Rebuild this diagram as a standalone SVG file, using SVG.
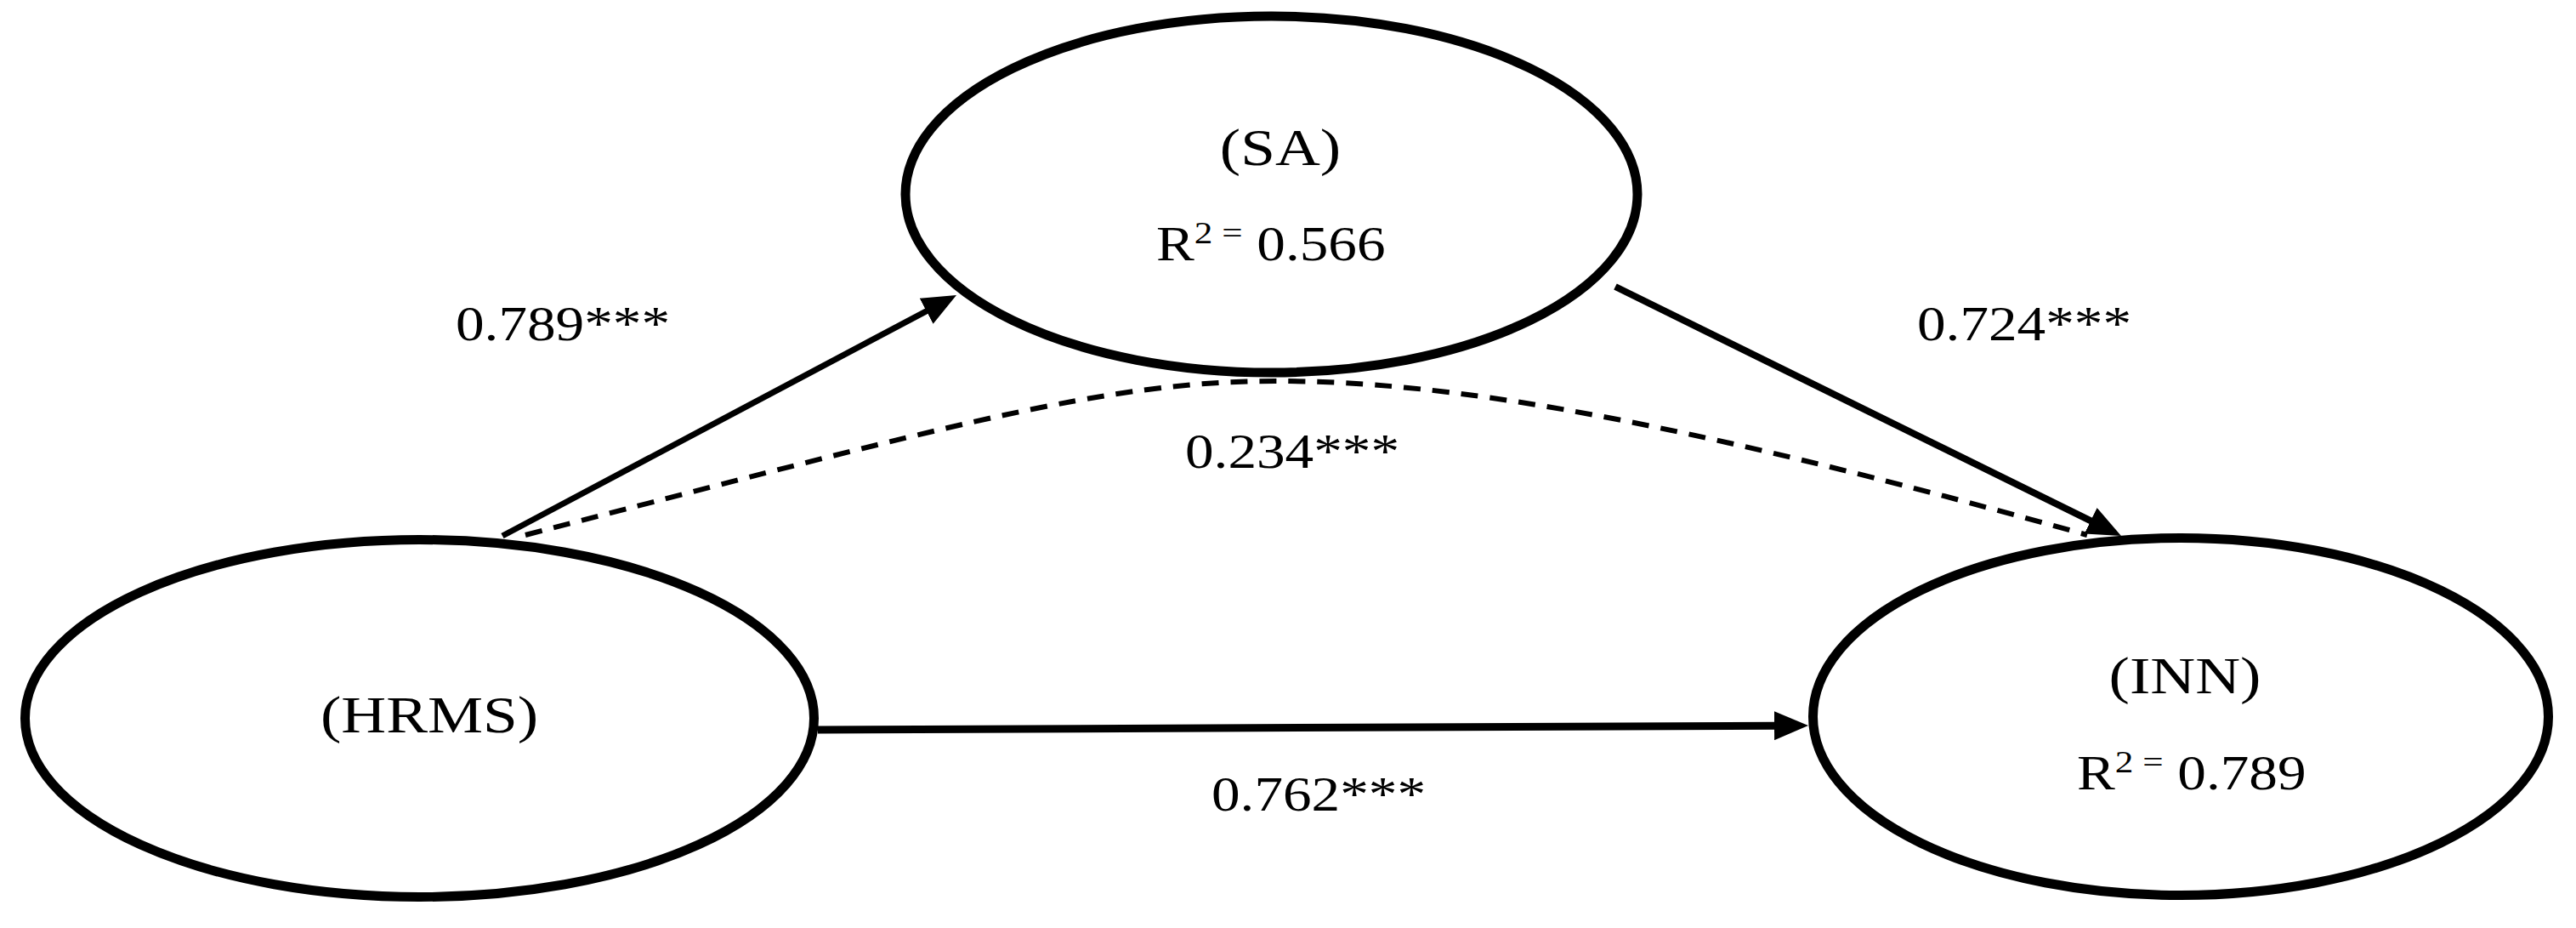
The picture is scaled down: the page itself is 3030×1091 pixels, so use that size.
<svg xmlns="http://www.w3.org/2000/svg" width="3030" height="1091" viewBox="0 0 3030 1091">
<style>
.node ellipse { fill: #fff; stroke: #000; stroke-width: 11; }
.lbl { font-family: "Liberation Serif", "Times New Roman", serif; fill: #000; }
.node-lbl { font-size: 61px; text-anchor: middle; }
.edge-lbl { font-size: 56px; text-anchor: middle; }
.r2 { font-size: 56px; }
.sup { font-size: 36px; }
.conn { fill: none; stroke: #000; }
.dashed { stroke-width: 6; stroke-dasharray: 20 14; }
</style>
<defs>
<marker id="arrow" markerUnits="userSpaceOnUse" viewBox="0 0 40 34" markerWidth="40" markerHeight="34" refX="2" refY="17" orient="auto">
<path d="M0,0 L40,17 L0,34 z" fill="#000"/>
</marker>
</defs>
<rect width="3030" height="1091" fill="#fff"/>

<g id="node-SA" class="node">
<ellipse cx="1495.5" cy="228.5" rx="430.5" ry="209.5"/>
<text class="lbl node-lbl" transform="translate(1506,194) scale(1.2,1)">(SA)</text>
<text class="lbl r2" transform="translate(1360,306) scale(1.2,1)">R<tspan class="sup" dy="-20">2 =</tspan><tspan dy="20"> 0.566</tspan></text>
</g>

<g id="node-HRMS" class="node">
<ellipse cx="493.5" cy="844.5" rx="464" ry="210"/>
<text class="lbl node-lbl" transform="translate(505,861) scale(1.2,1)">(HRMS)</text>
</g>

<g id="node-INN" class="node">
<ellipse cx="2565" cy="842.5" rx="432.5" ry="210"/>
<text class="lbl node-lbl" transform="translate(2570,815) scale(1.2,1)">(INN)</text>
<text class="lbl r2" transform="translate(2443,928) scale(1.2,1)">R<tspan class="sup" dy="-20">2 =</tspan><tspan dy="20"> 0.789</tspan></text>
</g>

<g id="connectors">
<line class="conn" x1="591" y1="630" x2="1091.4" y2="364.8" stroke-width="7" marker-end="url(#arrow)"/>
<line class="conn" x1="1900" y1="337" x2="2460.9" y2="613.2" stroke-width="8" marker-end="url(#arrow)"/>
<line class="conn" x1="962" y1="858" x2="2089" y2="853.2" stroke-width="9" marker-end="url(#arrow)"/>
<path class="conn dashed" d="M618,629 C1118,500 1300,448 1500,448 C1700,448 1955,489 2455,629"/>
<text class="lbl edge-lbl" transform="translate(662,400) scale(1.2,1)">0.789***</text>
<text class="lbl edge-lbl" transform="translate(2381,400) scale(1.2,1)">0.724***</text>
<text class="lbl edge-lbl" transform="translate(1520,550) scale(1.2,1)">0.234***</text>
<text class="lbl edge-lbl" transform="translate(1551,953) scale(1.2,1)">0.762***</text>
</g>
</svg>
